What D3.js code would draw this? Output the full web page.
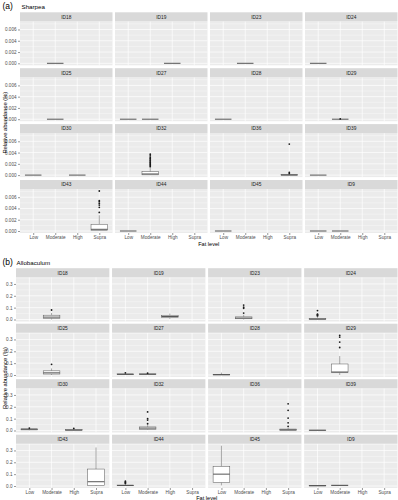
<!DOCTYPE html>
<html><head><meta charset="utf-8">
<script src="https://cdn.jsdelivr.net/npm/d3@7/dist/d3.min.js"></script>
<style>
html,body{margin:0;padding:0;background:#fff;}
svg{display:block;font-family:"Liberation Sans",Arial,Helvetica,sans-serif;}
</style></head>
<body><svg id="chart" width="398" height="500"></svg>
<script>
const levels = ["Low","Moderate","High","Supra"];
const ids = ["ID18","ID19","ID23","ID24","ID25","ID27","ID28","ID29","ID30","ID32","ID36","ID39","ID43","ID44","ID45","ID9"];
const sharpeaTicks = [0, 0.002, 0.004, 0.006];
const sharpeaTickLabels = ["0.000","0.002","0.004","0.006"];
const alloTicks = [0, 0.1, 0.2, 0.3];
const alloTickLabels = ["0.0","0.1","0.2","0.3"];
// [id, level, lower whisker, q1, median, q3, upper whisker, outliers]
const sharpeaBoxes = [
  ["ID18","Moderate",0,0,0,0,0,[]],
  ["ID19","High",0,0,0,0,0,[]],
  ["ID23","Moderate",0,0,0,0,0,[]],
  ["ID24","Low",0,0,0,0,0,[]],
  ["ID25","Moderate",0,0,0,0,0,[]],
  ["ID27","Low",0,0,0,0,0,[]],
  ["ID27","Moderate",0,0,0,0,0,[]],
  ["ID28","Low",0,0,0,0,0,[]],
  ["ID29","Moderate",0,0,0,0,0,[0.00005]],
  ["ID30","Low",0,0,0,0,0,[]],
  ["ID30","High",0,0,0,0,0,[]],
  ["ID32","Moderate",0,0.00005,0.0002,0.0006,0.0013,[0.0015,0.0017,0.0019,0.0021,0.0023,0.0025,0.0027,0.0029,0.0031,0.0034,0.0037]],
  ["ID36","Supra",0,0,0.00002,0.00008,0.0002,[0.0003,0.0005,0.0055]],
  ["ID39","Low",0,0,0,0,0,[]],
  ["ID43","Supra",0,0.00005,0.0003,0.0012,0.0028,[0.0033,0.0042,0.0046,0.0049,0.0052,0.0054,0.0071]],
  ["ID44","Low",0,0,0,0,0,[]],
  ["ID45","Low",0,0,0,0,0,[]],
  ["ID9","Low",0,0,0,0,0,[]],
  ["ID9","Moderate",0,0,0,0,0,[]]
];
const alloBoxes = [
  ["ID18","Moderate",0,0.01,0.02,0.036,0.055,[0.08]],
  ["ID19","High",0.005,0.015,0.025,0.035,0.05,[]],
  ["ID23","Moderate",0,0.006,0.012,0.022,0.04,[0.054,0.094,0.104,0.122]],
  ["ID24","Low",0,0.002,0.004,0.01,0.02,[0.03,0.035,0.04,0.045,0.075]],
  ["ID25","Moderate",0,0.008,0.018,0.035,0.055,[0.09]],
  ["ID27","Low",0,0.002,0.005,0.01,0.012,[0.018]],
  ["ID27","Moderate",0,0.003,0.006,0.01,0.012,[0.015]],
  ["ID28","Low",0,0.001,0.002,0.004,0.02,[]],
  ["ID29","Moderate",0,0.02,0.025,0.093,0.16,[0.232,0.278,0.32,0.335]],
  ["ID30","Low",0.002,0.005,0.01,0.014,0.016,[0.02]],
  ["ID30","High",0,0.002,0.004,0.007,0.01,[0.017]],
  ["ID32","Moderate",0.004,0.01,0.02,0.03,0.045,[0.057,0.088,0.1,0.157]],
  ["ID36","Supra",0,0.002,0.006,0.012,0.025,[0.035,0.065,0.105,0.17,0.225]],
  ["ID39","Low",0,0.001,0.002,0.003,0.005,[]],
  ["ID43","Supra",0,0.006,0.036,0.143,0.325,[]],
  ["ID44","Low",0,0.002,0.004,0.008,0.018,[0.022,0.028,0.033,0.04]],
  ["ID45","Low",0.005,0.03,0.1,0.165,0.34,[]],
  ["ID9","Low",0,0.001,0.002,0.004,0.005,[]],
  ["ID9","Moderate",0,0.003,0.005,0.007,0.008,[]]
];

const svg = d3.select("#chart");

function drawFacets(cfg){
  const g = svg.append("g");
  const nCol = 4, nRow = 4;
  const pw = (cfg.right - cfg.left - cfg.gap*(nCol-1))/nCol;
  const x = d3.scalePoint().domain(levels).range([0,pw]).padding(0.6);
  const y = d3.scaleLinear().domain(cfg.domain).range([cfg.panelH,0]);
  const minorTicks = cfg.ticks.slice(0,-1).map((t,i)=>(t+cfg.ticks[i+1])/2)
    .concat([cfg.ticks[cfg.ticks.length-1] + (cfg.ticks[1]-cfg.ticks[0])/2])
    .filter(v=>v>=cfg.domain[0] && v<=cfg.domain[1]);
  g.append("text").attr("x",2.5).attr("y",cfg.labelY).attr("font-size",8.5).attr("fill","#000").text(cfg.label);
  g.append("text").attr("x",cfg.nameX).attr("y",cfg.labelY-0.5).attr("font-size",6.2).attr("fill","#000").text(cfg.name);
  ids.forEach((id,i)=>{
    const c = i%nCol, r = Math.floor(i/nCol);
    const px = cfg.left + c*(pw+cfg.gap);
    const sy = cfg.top + r*cfg.rowStep;
    const py = sy + cfg.stripH;
    const pg = g.append("g").attr("transform",`translate(${px},${py})`);
    g.append("rect").attr("x",px).attr("y",sy).attr("width",pw).attr("height",cfg.stripH).attr("fill","#d9d9d9");
    g.append("text").attr("x",px+pw/2).attr("y",sy+cfg.stripH/2+1.8).attr("text-anchor","middle")
      .attr("font-size",4.8).attr("fill","#1a1a1a").text(id);
    pg.append("rect").attr("width",pw).attr("height",cfg.panelH).attr("fill","#ebebeb");
    pg.selectAll(".mn").data(minorTicks).enter().append("line")
      .attr("x1",0).attr("x2",pw).attr("y1",d=>y(d)).attr("y2",d=>y(d))
      .attr("stroke","#fff").attr("stroke-width",0.35);
    pg.selectAll(".mj").data(cfg.ticks).enter().append("line")
      .attr("x1",0).attr("x2",pw).attr("y1",d=>y(d)).attr("y2",d=>y(d))
      .attr("stroke","#fff").attr("stroke-width",0.7);
    pg.selectAll(".vx").data(levels).enter().append("line")
      .attr("x1",d=>x(d)).attr("x2",d=>x(d)).attr("y1",0).attr("y2",cfg.panelH)
      .attr("stroke","#fff").attr("stroke-width",0.7);
    if(c===0){
      const ya = d3.axisLeft(y).tickValues(cfg.ticks).tickFormat((d,k)=>cfg.tickLabels[k]).tickSize(2).tickPadding(1.5);
      const ag = pg.append("g").call(ya);
      ag.select(".domain").remove();
      ag.selectAll("line").attr("stroke","#333").attr("stroke-width",0.5);
      ag.selectAll("text").attr("font-size",4.6).attr("fill","#4d4d4d").attr("font-family","Liberation Sans, Arial, sans-serif");
    }
    if(r===nRow-1){
      const xa = d3.axisBottom(x).tickSize(2).tickPadding(1);
      const ag = pg.append("g").attr("transform",`translate(0,${cfg.panelH})`).call(xa);
      ag.select(".domain").remove();
      ag.selectAll("line").attr("stroke","#333").attr("stroke-width",0.5);
      ag.selectAll("text").attr("font-size",4.7).attr("fill","#4d4d4d").attr("font-family","Liberation Sans, Arial, sans-serif");
    }
    const bw = x.step()*0.75;
    cfg.data.filter(d=>d[0]===id).forEach(d=>{
      const [, lev, lo, q1, med, q3, hi, outs] = d;
      const cx = x(lev);
      pg.append("line").attr("x1",cx).attr("x2",cx).attr("y1",y(q3)).attr("y2",y(hi)).attr("stroke","#555").attr("stroke-width",0.5);
      pg.append("line").attr("x1",cx).attr("x2",cx).attr("y1",y(q1)).attr("y2",y(lo)).attr("stroke","#555").attr("stroke-width",0.5);
      pg.append("rect").attr("x",cx-bw/2).attr("y",y(q3)).attr("width",bw).attr("height",Math.max(0,y(q1)-y(q3)))
        .attr("fill","#fff").attr("stroke","#555").attr("stroke-width",0.5);
      pg.append("line").attr("x1",cx-bw/2).attr("x2",cx+bw/2).attr("y1",y(med)).attr("y2",y(med))
        .attr("stroke","#555").attr("stroke-width",1);
      pg.selectAll(null).data(outs).enter().append("circle")
        .attr("cx",cx).attr("cy",v=>y(v)).attr("r",0.9).attr("fill","#1a1a1a");
    });
  });
  const bottom = cfg.top + (nRow-1)*cfg.rowStep + cfg.stripH + cfg.panelH;
  g.append("text").attr("x",(cfg.left+cfg.right)/2).attr("y",cfg.xTitleY).attr("text-anchor","middle")
    .attr("font-size",5.6).attr("fill","#000").text("Fat level");
  const cy = (cfg.top+bottom)/2;
  g.append("text").attr("transform",`translate(${cfg.yTitleX},${cy}) rotate(-90)`).attr("text-anchor","middle")
    .attr("font-size",5.8).attr("fill","#000").text("Relative abundance (%)");
}

drawFacets({
  label:"(a)", name:"Sharpea", labelY:9, nameX:21.5,
  left:20, right:397.5, gap:2.5, top:12.3, rowStep:55.9, stripH:9, panelH:44,
  domain:[-0.000355,0.007455], ticks:sharpeaTicks, tickLabels:sharpeaTickLabels,
  data:sharpeaBoxes, xTitleY:245.5, yTitleX:6.5
});
drawFacets({
  label:"(b)", name:"Allobaculum", labelY:265, nameX:16.5,
  left:16, right:397.5, gap:2.7, top:268.2, rowStep:55.5, stripH:9, panelH:44.3,
  domain:[-0.017,0.357], ticks:alloTicks, tickLabels:alloTickLabels,
  data:alloBoxes, xTitleY:499.8, yTitleX:6.5
});
</script></body></html>
